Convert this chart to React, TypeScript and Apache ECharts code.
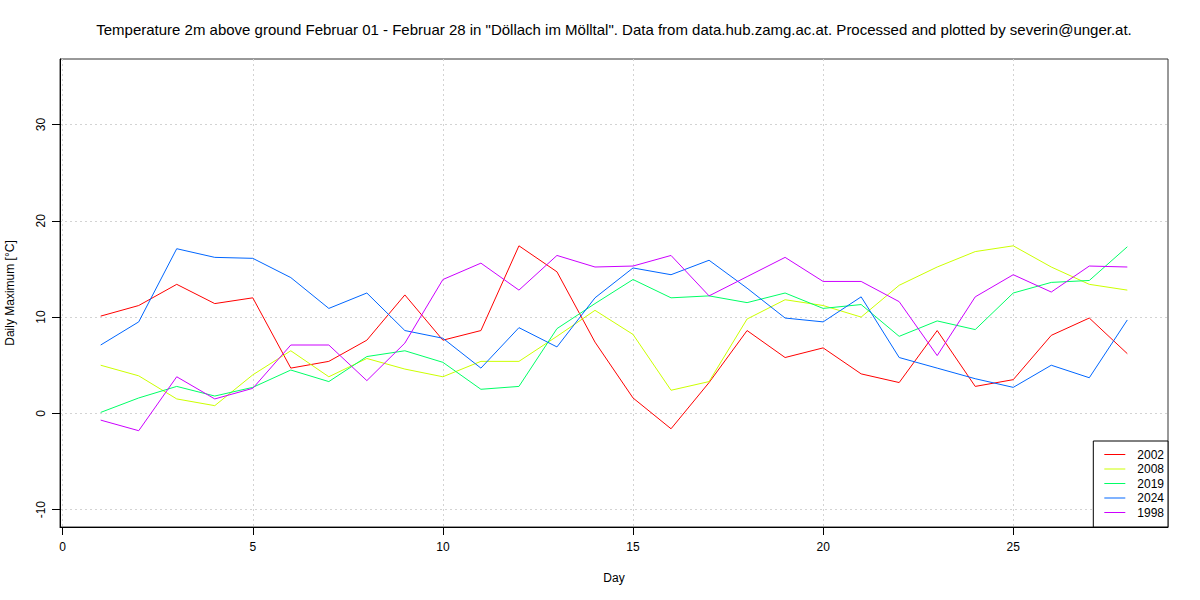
import React, { useEffect, useRef } from "react";
import * as echarts from "echarts";

const days = [1,2,3,4,5,6,7,8,9,10,11,12,13,14,15,16,17,18,19,20,21,22,23,24,25,26,27,28];
const t2002 = [10.1,11.2,13.4,11.4,12.0,4.7,5.4,7.6,12.3,7.6,8.6,17.4,14.7,7.4,1.6,-1.6,3.2,8.6,5.8,6.8,4.1,3.2,8.6,2.8,3.5,8.1,9.9,6.2];
const t2008 = [5.0,3.9,1.5,0.8,4.0,6.5,3.8,5.7,4.6,3.8,5.4,5.4,8.0,10.7,8.2,2.4,3.3,9.8,11.8,11.2,10.0,13.3,15.2,16.8,17.4,15.2,13.4,12.8];
const t2019 = [0.1,1.6,2.8,1.8,2.7,4.5,3.3,5.9,6.5,5.3,2.5,2.8,8.8,11.4,13.9,12.0,12.2,11.5,12.5,10.9,11.3,8.0,9.6,8.7,12.5,13.6,13.8,17.3];
const t2024 = [7.1,9.5,17.1,16.2,16.1,14.1,10.9,12.5,8.6,7.8,4.7,8.9,6.9,12.0,15.1,14.4,15.9,13.0,9.9,9.5,12.1,5.8,4.7,3.6,2.7,5.0,3.7,9.7];
const t1998 = [-0.7,-1.8,3.8,1.5,2.6,7.1,7.1,3.4,7.3,13.9,15.6,12.8,16.4,15.2,15.3,16.4,12.2,14.2,16.2,13.7,13.7,11.6,6.0,12.1,14.4,12.6,15.3,15.2];

const seriesNames = ["2002", "2008", "2019", "2024", "1998"];
const seriesValues = [t2002, t2008, t2019, t2024, t1998];
const seriesColors = ["#FF0000", "#CCFF00", "#00FF66", "#0066FF", "#CC00FF"];

const xTicks = [0, 5, 10, 15, 20, 25];
const yTicks = [-10, 0, 10, 20, 30];

const titleText =
  'Temperature 2m above ground Februar 01 - Februar 28 in "Döllach im Mölltal". Data from data.hub.zamg.ac.at. Processed and plotted by severin@unger.at.';

const FONT = "Liberation Sans, Arial, Helvetica, sans-serif";

export default function App() {
  const ref = useRef<HTMLDivElement>(null);
  useEffect(() => {
    if (!ref.current) return;
    const chart = echarts.init(ref.current, null, { renderer: "svg" });
    const series = seriesNames.map((name, i) => ({
      name,
      type: "line",
      data: days.map((d, j) => [d, seriesValues[i][j]]),
      symbol: "none",
      showSymbol: false,
      lineStyle: { color: seriesColors[i], width: 1 },
      itemStyle: { color: seriesColors[i] },
    }));
    chart.setOption({
      animation: false,
      backgroundColor: "#ffffff",
      textStyle: { fontFamily: FONT },
      graphic: [
        {
          type: "text",
          x: 614,
          y: 29,
          style: {
            text: titleText,
            fontSize: 15,
            fontFamily: FONT,
            fill: "#000",
            textAlign: "center",
            textVerticalAlign: "middle",
          },
        },
      ],
      grid: {
        left: 60,
        right: 32,
        top: 59,
        bottom: 73,
        show: true,
        borderColor: "#333",
        borderWidth: 1,
        containLabel: false,
        outerBoundsMode: "none",
      },
      legend: {
        orient: "vertical",
        right: 32,
        bottom: 73,
        data: seriesNames,
        backgroundColor: "#fff",
        borderColor: "#000",
        borderWidth: 1,
        borderRadius: 0,
        padding: [7.5, 4, 8.5, 11],
        itemWidth: 21,
        itemHeight: 14,
        itemGap: 2.5,
        icon: "path://M0,7 L21,7 L21,8 L0,8 Z",
        textStyle: { fontSize: 12, fontFamily: FONT, color: "#000", padding: [0, 0, 0, 7] },
      },
      xAxis: {
        type: "value",
        min: -0.07,
        max: 29.07,
        name: "Day",
        nameLocation: "middle",
        nameGap: 45,
        nameTextStyle: { fontSize: 12, color: "#000", fontFamily: FONT },
        axisLine: { show: true, onZero: false, lineStyle: { color: "#000", width: 1 } },
        axisTick: { show: true, length: 8, inside: false, customValues: xTicks, lineStyle: { color: "#000" } },
        axisLabel: { customValues: xTicks, fontSize: 12, color: "#000", margin: 14, fontFamily: FONT },
        splitLine: { show: true, lineStyle: { color: "#d3d3d3", type: [2, 3], width: 1 } },
      },
      yAxis: {
        type: "value",
        min: -11.8,
        max: 36.8,
        name: "Daily Maximum [°C]",
        nameLocation: "middle",
        nameGap: 44,
        nameTextStyle: { fontSize: 12, color: "#000", fontFamily: FONT },
        axisLine: { show: true, onZero: false, lineStyle: { color: "#000", width: 1 } },
        axisTick: { show: true, length: 8, customValues: yTicks, lineStyle: { color: "#000" } },
        axisLabel: { customValues: yTicks, fontSize: 12, color: "#000", rotate: 90, margin: 13, fontFamily: FONT },
        splitLine: { show: true, lineStyle: { color: "#d3d3d3", type: [2, 3], width: 1 } },
      },
      series,
    });
    return () => chart.dispose();
  }, []);
  return <div ref={ref} style={{ width: 1200, height: 600, position: "absolute", left: 0, top: 0 }} />;
}
